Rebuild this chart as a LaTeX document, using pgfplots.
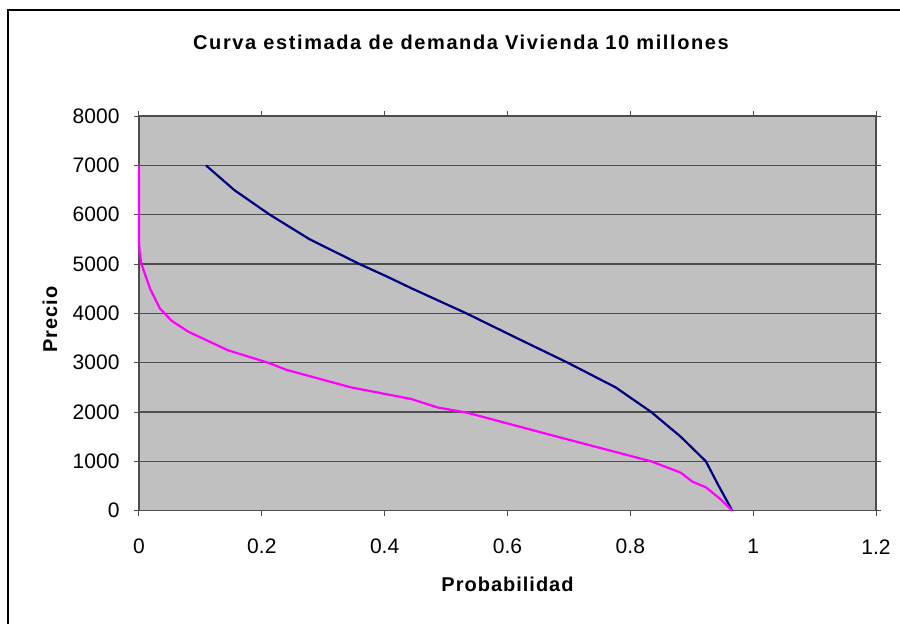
\documentclass[border=0pt]{standalone}
\usepackage{pgfplots}
\pgfplotsset{compat=1.18}
\usepackage{fontspec}
\setmainfont{Liberation Sans}
\definecolor{plotbg}{HTML}{C0C0C0}
\definecolor{gridc}{HTML}{4D4D4D}
\definecolor{navyc}{HTML}{000080}
\definecolor{magc}{HTML}{FF00FF}
\begin{document}
\begin{tikzpicture}
\useasboundingbox (0pt,0pt) rectangle (900pt,624pt);
\fill[white] (0pt,0pt) rectangle (900pt,624pt);
\draw[black, line width=1.6pt] (8pt,-10pt) rectangle (910pt,614pt);
\node[font=\fontsize{20}{22}\selectfont\bfseries\addfontfeatures{LetterSpace=8}] at (461pt,582pt) {Curva estimada de demanda Vivienda 10 millones};
\begin{axis}[
  at={(139pt,113.3pt)}, anchor=south west,
  scale only axis, width=737pt, height=394.7pt,
  xmin=0, xmax=1.2, ymin=0, ymax=8000,
  xtick={0,0.2,0.4,0.6,0.8,1,1.2},
  xticklabels={0,0.2,0.4,0.6,0.8,1,1.2},
  ytick={0,1000,...,8000},
  yticklabels={0,1000,2000,3000,4000,5000,6000,7000,8000},
  tick align=outside, major tick length=5pt,
  tick style={gridc, line width=1pt},
  ymajorgrids, grid style={gridc, line width=1.1pt},
  axis background/.style={fill=plotbg},
  axis line style={gridc, line width=1.3pt},
  ticklabel style={font=\fontsize{21}{23}\selectfont},
  /pgf/number format/assume math mode=true,
  xticklabel style={anchor=center, yshift=-31pt},
  yticklabel style={anchor=east, xshift=-11pt},
  xlabel={\bfseries\addfontfeatures{LetterSpace=5}Probabilidad},
  ylabel={\bfseries\addfontfeatures{LetterSpace=5}Precio},
  label style={font=\fontsize{20}{22}\selectfont},
  xlabel style={at={(0.5,0)}, anchor=center, yshift=-74pt},
  ylabel style={at={(0,0.5)}, anchor=center, yshift=89pt, xshift=-6pt},
  clip=false,
]
\addplot[navyc, line width=2.2pt, line join=round] coordinates {
(0.109,7000) (0.155,6500) (0.213,6000) (0.278,5500) (0.359,5000)
(0.403,4750) (0.445,4500) (0.533,4000) (0.615,3500) (0.698,3000)
(0.776,2500) (0.834,2000) (0.882,1500) (0.923,1000) (0.944,500) (0.966,0)
};
\addplot[magc, line width=2.2pt, line join=round] coordinates {
(0,7000) (0,6500) (0,6000) (0,5500) (0.001,5250) (0.004,5000)
(0.018,4500) (0.034,4100) (0.053,3850) (0.080,3630) (0.145,3250)
(0.210,3000) (0.240,2855) (0.345,2500) (0.443,2265) (0.487,2090)
(0.533,1990) (0.554,1921) (0.681,1500) (0.834,1000) (0.882,771)
(0.901,588) (0.923,475) (0.947,231) (0.966,0)
};
\end{axis}
\end{tikzpicture}
\end{document}
